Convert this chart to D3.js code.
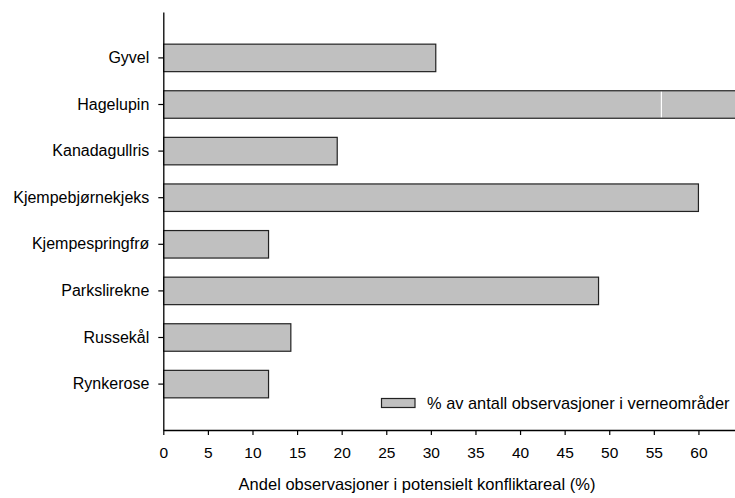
<!DOCTYPE html>
<html><head><meta charset="utf-8">
<script src="https://cdn.jsdelivr.net/npm/d3@7"></script>
<style>
html,body{margin:0;padding:0;background:#fff;}
svg{display:block;font-family:"Liberation Sans",Arial,sans-serif;}
</style></head>
<body>
<svg id="chart" width="735" height="498"></svg>
<script>
const categories = ["Gyvel","Hagelupin","Kanadagullris","Kjempebjørnekjeks","Kjempespringfrø","Parkslirekne","Russekål","Rynkerose"];
const values = [30.55, 70, 19.5, 60.0, 11.8, 48.8, 14.3, 11.8];
// white division line seen inside the Hagelupin bar
const splitCategory = ["Hagelupin"];
const splitValue = [55.85];
const xTicks = [0,5,10,15,20,25,30,35,40,45,50,55,60];
const legendLabel = "% av antall observasjoner i verneområder";
const xTitle = "Andel observasjoner i potensielt konfliktareal (%)";

const svg = d3.select("#chart");
const x = d3.scaleLinear().domain([0, 64.1]).range([163.3, 735]);
const y = d3.scaleBand().domain(categories).range([12, 430]).paddingInner(0.41).paddingOuter(0.69);

svg.append("clipPath").attr("id","clip").append("rect")
  .attr("x",163).attr("y",0).attr("width",735-163).attr("height",498);

const data = categories.map((c,i)=>({c, v: values[i]}));
const g = svg.append("g").attr("clip-path","url(#clip)");
g.selectAll("rect.bar").data(data).join("rect").attr("class","bar")
  .attr("x", x(0)).attr("y", d=>y(d.c))
  .attr("width", d=>x(d.v)-x(0)).attr("height", y.bandwidth())
  .attr("fill","#c0c0c0").attr("stroke","#222").attr("stroke-width",1.2);
g.selectAll("line.split").data(splitCategory.map((c,i)=>({c,v:splitValue[i]}))).join("line")
  .attr("class","split")
  .attr("x1",d=>x(d.v)).attr("x2",d=>x(d.v))
  .attr("y1",d=>y(d.c)+1).attr("y2",d=>y(d.c)+y.bandwidth()-1)
  .attr("stroke","#fff").attr("stroke-width",1.2);

// x axis
const xAxis = d3.axisBottom(x).tickValues(xTicks).tickSize(5).tickPadding(12).tickSizeOuter(0);
const gx = svg.append("g").attr("transform","translate(0,430)").call(xAxis);
gx.attr("font-size",15.5).attr("font-family","Liberation Sans, Arial, sans-serif");
gx.select(".domain").attr("stroke","#000").attr("stroke-width",1.3);
gx.selectAll(".tick line").attr("stroke","#000").attr("stroke-width",1.2);
gx.selectAll(".tick text").attr("fill","#000");

// y axis
const yAxis = d3.axisLeft(y).tickSize(5).tickPadding(9).tickSizeOuter(0);
const gy = svg.append("g").attr("transform","translate(163.3,0)").call(yAxis);
gy.attr("font-size",16).attr("font-family","Liberation Sans, Arial, sans-serif");
gy.select(".domain").attr("stroke","#000").attr("stroke-width",1.3);
gy.selectAll(".tick line").attr("stroke","#000").attr("stroke-width",1.2);
gy.selectAll(".tick text").attr("fill","#000");

// x title
svg.append("text").attr("x",417).attr("y",490).attr("text-anchor","middle")
  .attr("font-size",16.5).attr("fill","#000").text(xTitle);

// legend
svg.append("rect").attr("x",381.5).attr("y",398.5).attr("width",33.5).attr("height",9)
  .attr("fill","#c0c0c0").attr("stroke","#222").attr("stroke-width",1.2);
svg.append("text").attr("x",427).attr("y",409).attr("font-size",16.4).attr("fill","#000").text(legendLabel);
</script>
</body></html>
